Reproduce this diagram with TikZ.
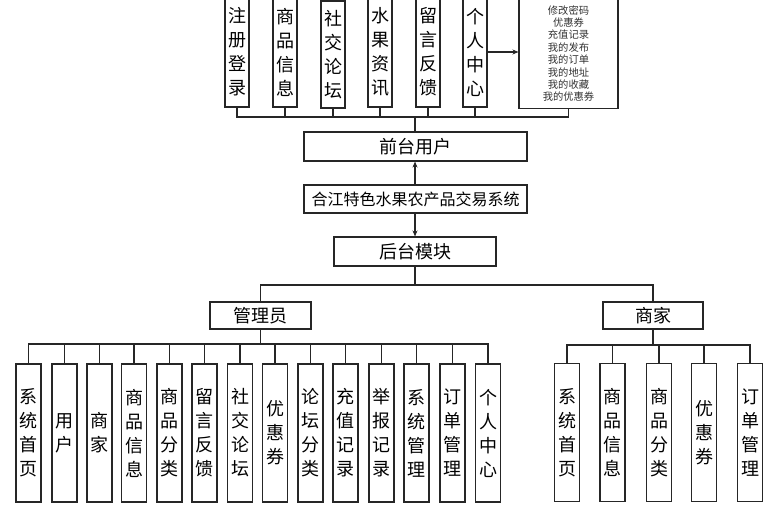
\documentclass[tikz,border=0pt]{standalone}
\usepackage{fontspec}
\newfontfamily\cjk{Noto Sans CJK SC}
\usetikzlibrary{arrows.meta}
\begin{document}
\begin{tikzpicture}[x=1pt,y=-1pt,
  ln/.style={line width=1.1pt, draw=black!85},
  hbox/.style={draw=black!85, line width=1.1pt, inner sep=0pt, font=\cjk\fontsize{18}{18}\selectfont},
  vbox/.style={draw=black!85, line width=1.1pt, inner sep=0pt, minimum width=24pt, align=center, font=\cjk\fontsize{18}{24}\selectfont},
  topbox/.style={vbox, minimum height=110pt},
  lowbox/.style={vbox, minimum height=138pt, minimum width=25pt},
  detail/.style={draw=black!85, line width=1.1pt, inner sep=0pt, minimum width=99pt, minimum height=110pt, align=center, text=black!80, font=\cjk\fontsize{10.3}{12.4}\selectfont}
]
\useasboundingbox (0,0) rectangle (784,506);
% top row
\node[topbox] (t1) at (237,52) {注\\册\\登\\录};
\node[topbox] (t2) at (285,52) {商\\品\\信\\息};
\node[vbox, minimum height=107pt] (t3) at (333,54.5) {社\\交\\论\\坛};
\node[topbox] (t4) at (380,52) {水\\果\\资\\讯};
\node[topbox] (t5) at (428,52) {留\\言\\反\\馈};
\node[topbox] (t6) at (475,52) {个\\人\\中\\心};
\node[detail] (d) at (568.5,53.5) {修改密码\\优惠券\\充值记录\\我的发布\\我的订单\\我的地址\\我的收藏\\我的优惠券};
\draw[ln, -{Stealth[length=6pt,width=5pt]}] (t6.east) -- (d.west |- t6.east);
\coordinate (bt) at (415,117);
\draw[ln] (t1.south) |- (bt) -| (d.south);
\foreach \i in {2,...,6} \draw[ln] (t\i.south) -- (t\i.south |- bt);
% middle
\node[hbox, minimum width=223pt, minimum height=29pt] (qt) at (415.5,146.5) {前台用户};
\node[hbox, minimum width=223pt, minimum height=28pt, font=\cjk\fontsize{16}{16}\selectfont] (sys) at (415.5,199) {合江特色水果农产品交易系统};
\node[hbox, minimum width=162pt, minimum height=29pt] (ht) at (415,251.5) {后台模块};
\draw[ln] (bt) -- (qt.north -| bt);
\draw[ln, -{Stealth[length=6pt,width=5pt]}] (sys.north -| bt) -- (qt.south -| bt);
\draw[ln, -{Stealth[length=6pt,width=5pt]}] (sys.south -| bt) -- (ht.north -| bt);
% second level
\node[hbox, minimum width=101pt, minimum height=27pt] (adm) at (260.5,315.5) {管理员};
\node[hbox, minimum width=100pt, minimum height=27pt] (mer) at (653,315.5) {商家};
\coordinate (b2) at (415,285);
\draw[ln] (ht.south -| b2) -- (b2);
\draw[ln] (adm.north) |- (b2) -| (mer.north);
% admin children
\foreach \n/\x/\t in {1/28.5/系\\统\\首\\页, 2/64.5/用\\户, 3/99.5/商\\家, 4/134/商\\品\\信\\息, 5/169.5/商\\品\\分\\类, 6/204.5/留\\言\\反\\馈, 7/240/社\\交\\论\\坛, 8/275/优\\惠\\券, 9/310.5/论\\坛\\分\\类, 10/345.5/充\\值\\记\\录, 11/381.5/举\\报\\记\\录, 12/416.5/系\\统\\管\\理, 13/452.5/订\\单\\管\\理, 14/488/个\\人\\中\\心}
  \node[lowbox] (a\n) at (\x,433) {\t};
\coordinate (ab) at (260.5,344);
\draw[ln] (adm.south) -- (ab);
\draw[ln] (a1.north) |- (ab) -| (a14.north);
\foreach \i in {2,...,13} \draw[ln] (a\i.north) -- (a\i.north |- ab);
% merchant children
\foreach \n/\x/\t in {1/567/系\\统\\首\\页, 2/612.5/商\\品\\信\\息, 3/659/商\\品\\分\\类, 4/704/优\\惠\\券, 5/750/订\\单\\管\\理}
  \node[lowbox] (m\n) at (\x,432.5) {\t};
\coordinate (mb) at (653,345);
\draw[ln] (mer.south) -- (mb);
\draw[ln] (m1.north) |- (mb) -| (m5.north);
\foreach \i in {2,3,4} \draw[ln] (m\i.north) -- (m\i.north |- mb);
\end{tikzpicture}
\end{document}
